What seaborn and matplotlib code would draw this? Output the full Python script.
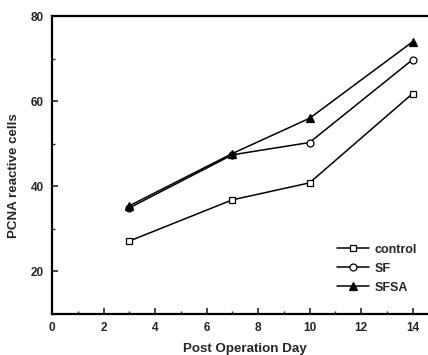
import matplotlib
matplotlib.use("Agg")
import matplotlib.pyplot as plt
import seaborn as sns
import pandas as pd
from matplotlib.ticker import MultipleLocator

days = [3, 7, 10, 14]
control = [27.1, 36.8, 40.8, 61.8]
sf = [34.9, 47.4, 50.3, 69.8]
sfsa = [35.4, 47.7, 56.0, 74.0]
series_names = ["control", "SF", "SFSA"]
xticks = [0, 2, 4, 6, 8, 10, 12, 14]
yticks = [20, 40, 60, 80]

sns.set_style("white")
plt.rcParams['font.family'] = ['Liberation Sans', 'DejaVu Sans']
plt.rcParams['font.weight'] = 'bold'

df = pd.DataFrame({
    "day": days * 3,
    "value": control + sf + sfsa,
    "group": [n for n in series_names for _ in days],
})

fig = plt.figure(figsize=(4.28, 3.55), dpi=100)
ax = fig.add_axes([0.1215, 0.1163, 0.8785, 0.8377])

styles = {
    "control": dict(marker="s", mfc="white", ms=4.5),
    "SF": dict(marker="o", mfc="white", ms=5),
    "SFSA": dict(marker="^", mfc="black", ms=6),
}
for name in series_names:
    sub = df[df["group"] == name]
    st = styles[name]
    sns.lineplot(data=sub, x="day", y="value", ax=ax, color="black", lw=1.1,
                 marker=st["marker"], markerfacecolor=st["mfc"], markeredgecolor="black",
                 markersize=st["ms"], markeredgewidth=0.9, label=name)

ax.set_xlim(0, 14.6)
ax.set_ylim(10, 80)
ax.set_xticks(xticks)
ax.set_yticks(yticks)
ax.xaxis.set_minor_locator(MultipleLocator(1))
ax.yaxis.set_minor_locator(MultipleLocator(10))
ax.tick_params(which="major", direction="in", length=4, width=1.2, labelsize=8.5, pad=6)
ax.tick_params(which="minor", direction="in", length=2, width=1)
ax.tick_params(axis="both", bottom=True, left=True, which="both")
for lab in ax.get_xticklabels() + ax.get_yticklabels():
    lab.set_fontweight("bold")
ax.spines["right"].set_visible(False)
for s in ["left", "bottom", "top"]:
    ax.spines[s].set_linewidth(1.6)
    ax.spines[s].set_color("black")

ax.set_xlabel("Post Operation Day", fontsize=9.6, fontweight="bold")
ax.xaxis.set_label_coords(0.513, -0.098)
ax.set_ylabel("PCNA reactive cells", fontsize=9.6, fontweight="bold")
ax.yaxis.set_label_coords(-0.085, 0.466)

leg = ax.legend(loc="lower right", bbox_to_anchor=(1.0, 0.03), frameon=False,
                fontsize=9, handlelength=2.6, labelspacing=0.55, handletextpad=0.4)
for t in leg.get_texts():
    t.set_fontweight("bold")

fig.savefig("out.png", dpi=100)
